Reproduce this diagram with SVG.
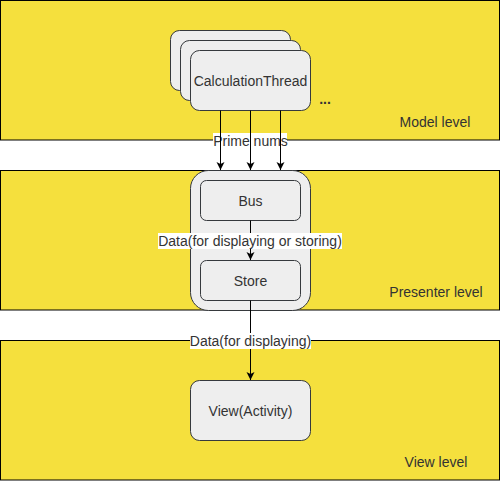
<svg xmlns="http://www.w3.org/2000/svg" width="501" height="481" viewBox="0 0 501 481">
<style>
.band{fill:#F5E03D;stroke:#000;stroke-width:1}
.box{fill:#EEEEEE;stroke:#36393D;stroke-width:1}
.t{font-family:"Liberation Sans",Arial,sans-serif;font-size:14px;fill:#333;text-anchor:middle;dominant-baseline:central}
.lvl{font-family:"Liberation Sans",Arial,sans-serif;font-size:14px;fill:#333;text-anchor:middle;dominant-baseline:central}
.e{stroke:#000;stroke-width:1;fill:none}
.lb{fill:#fff}
</style>
<defs>
<marker id="arr" markerWidth="9" markerHeight="9" refX="8" refY="4.5" orient="auto" markerUnits="userSpaceOnUse">
<path d="M0,0.5 L8,4.5 L0,8.5 L2,4.5 Z" fill="#000"/>
</marker>
</defs>
<g id="model-level"><rect class="band" x="0.5" y="0.5" width="499" height="139.5"/><text class="lvl" x="435" y="122">Model level</text></g>
<g id="presenter-level"><rect class="band" x="0.5" y="170.5" width="499" height="139.5"/><text class="lvl" x="436" y="292">Presenter level</text></g>
<g id="view-level"><rect class="band" x="0.5" y="340.5" width="499" height="139.5"/><text class="lvl" x="436" y="462">View level</text></g>
<g id="calc-thread">
<rect class="box" x="170.5" y="30.5" width="120" height="60" rx="9"/>
<rect class="box" x="180.5" y="40.5" width="120" height="60" rx="9"/>
<rect class="box" x="190.5" y="50.5" width="120" height="60" rx="9"/>
<text class="t" x="250.5" y="81">CalculationThread</text>
<text x="325" y="104" style="font-family:'Liberation Sans',Arial,sans-serif;font-size:14px;font-weight:bold;fill:#333;text-anchor:middle">...</text>
</g>
<g id="presenter"><rect class="box" x="190.5" y="170.5" width="120" height="140" rx="18"/></g>
<g id="bus"><rect class="box" x="200.5" y="180.5" width="100" height="40" rx="6"/><text class="t" x="250.5" y="201">Bus</text></g>
<g id="store"><rect class="box" x="200.5" y="260.5" width="100" height="40" rx="6"/><text class="t" x="250.5" y="281">Store</text></g>
<g id="view"><rect class="box" x="190.5" y="380.5" width="120" height="60" rx="9"/><text class="t" x="250.5" y="411">View(Activity)</text></g>
<g id="connectors">
<rect class="lb" x="213" y="133" width="74" height="15"/>
<text class="t" x="250.5" y="140.5">Prime nums</text>
<path class="e" d="M220.5,110.5 V170" marker-end="url(#arr)"/>
<path class="e" d="M250.5,110.5 V170" marker-end="url(#arr)"/>
<path class="e" d="M280.5,110.5 V170" marker-end="url(#arr)"/>
<path class="e" d="M250.5,220.5 V260" marker-end="url(#arr)"/>
<rect class="lb" x="158" y="233" width="184" height="16"/>
<text class="t" x="250" y="241">Data(for displaying or storing)</text>
<path class="e" d="M250.5,300.5 V380" marker-end="url(#arr)"/>
<rect class="lb" x="190" y="333" width="121" height="16"/>
<text class="t" x="250.5" y="341">Data(for displaying)</text>
</g>
</svg>
